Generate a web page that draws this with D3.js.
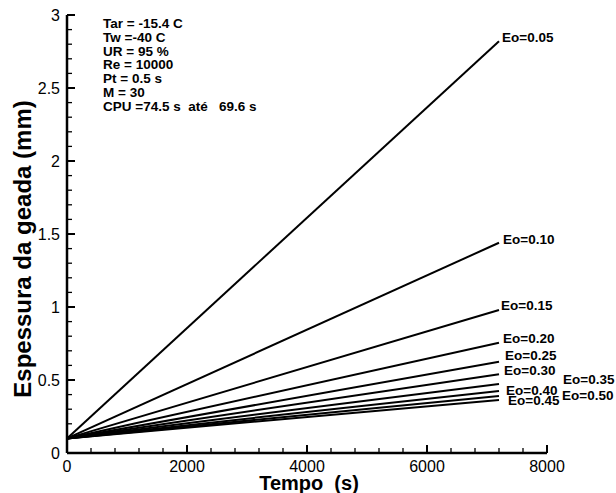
<!DOCTYPE html>
<html>
<head>
<meta charset="utf-8">
<script src="https://cdn.jsdelivr.net/npm/d3@7"></script>
<style>
  body { margin: 0; background: #fff; }
  text { font-family: "Liberation Sans", Arial, sans-serif; fill: #000; }
</style>
</head>
<body>
<script>
// data
var eoLabels = ["Eo=0.05", "Eo=0.10", "Eo=0.15", "Eo=0.20", "Eo=0.25",
                "Eo=0.30", "Eo=0.35", "Eo=0.40", "Eo=0.45", "Eo=0.50"];
var tempoPts = [0, 7200];
var startThick = [0.10, 0.10, 0.10, 0.10, 0.10, 0.10, 0.10, 0.10, 0.10, 0.10];
var endThick = [2.82, 1.44, 0.98, 0.755, 0.625, 0.54, 0.473, 0.425, 0.39, 0.363];
var notes = ["Tar = -15.4 C", "Tw =-40 C", "UR = 95 %", "Re = 10000",
             "Pt = 0.5 s", "M = 30", "CPU =74.5 s  até   69.6 s"];
var xTicks = [0, 2000, 4000, 6000, 8000];
var yTicks = [0, 0.5, 1, 1.5, 2, 2.5, 3];

// label nudges (layout only)
var labelDx = [3, 4, 2, 4, 6, 5, 64, 7, 9, 63];
var labelDy = [-4, -4, -5, -5, -7, -4, -5, -1, 4, -5];

var width = 616, height = 493;
var svg = d3.select("body").append("svg")
    .attr("width", width)
    .attr("height", height);

var x = d3.scaleLinear().domain([0, 8000]).range([67, 547]);
var y = d3.scaleLinear().domain([0, 3]).range([453, 15]);

// ticks, pointing inward
var g = svg.append("g");
d3.range(0, 8001, 400).forEach(function (v) {
  var major = v % 2000 === 0;
  g.append("line")
    .attr("x1", x(v)).attr("x2", x(v))
    .attr("y1", y(0)).attr("y2", y(0) - (major ? 8 : 5))
    .attr("stroke", "#000").attr("stroke-width", major ? 2 : 1.3);
});
d3.range(0, 31, 1).forEach(function (i) {
  var v = i / 10;
  var major = i % 5 === 0;
  g.append("line")
    .attr("x1", x(0)).attr("x2", x(0) + (major ? 8 : 5))
    .attr("y1", y(v)).attr("y2", y(v))
    .attr("stroke", "#000").attr("stroke-width", major ? 2 : 1.3);
});

// axis lines
g.append("line").attr("x1", x(0)).attr("x2", x(8000))
  .attr("y1", y(0)).attr("y2", y(0)).attr("stroke", "#000").attr("stroke-width", 2.5);
g.append("line").attr("x1", x(0)).attr("x2", x(0))
  .attr("y1", y(0)).attr("y2", y(3)).attr("stroke", "#000").attr("stroke-width", 2.5);

// tick labels
g.selectAll(".xl").data(xTicks).enter().append("text")
  .attr("x", function (d) { return x(d); })
  .attr("y", y(0) + 19)
  .attr("text-anchor", "middle")
  .style("font-size", "16px")
  .text(function (d) { return d; });

g.selectAll(".yl").data(yTicks).enter().append("text")
  .attr("x", 60)
  .attr("y", function (d) { return y(d) + 5.5; })
  .attr("text-anchor", "end")
  .style("font-size", "16px")
  .text(function (d) { return d; });

// axis titles
svg.append("text")
  .attr("x", 309).attr("y", 490)
  .attr("text-anchor", "middle")
  .attr("xml:space", "preserve")
  .style("font-size", "20px").style("font-weight", "bold")
  .text("Tempo  (s)");

svg.append("text")
  .attr("transform", "translate(31,249) rotate(-90)")
  .attr("text-anchor", "middle")
  .style("font-size", "24px").style("font-weight", "bold")
  .text("Espessura da geada (mm)");

// series
var line = d3.line()
  .x(function (d) { return x(d[0]); })
  .y(function (d) { return y(d[1]); });

var series = eoLabels.map(function (name, i) {
  return { name: name, pts: [[tempoPts[0], startThick[i]], [tempoPts[1], endThick[i]]] };
});

svg.selectAll(".curve").data(series).enter().append("path")
  .attr("d", function (d) { return line(d.pts); })
  .attr("fill", "none")
  .attr("stroke", "#000")
  .attr("stroke-width", 2);

svg.selectAll(".eo").data(series).enter().append("text")
  .attr("x", function (d, i) { return x(tempoPts[1]) + labelDx[i]; })
  .attr("y", function (d, i) { return y(endThick[i]) + labelDy[i] + 5; })
  .style("font-size", "13.5px").style("font-weight", "bold")
  .text(function (d) { return d.name; });

// parameter notes
svg.selectAll(".note").data(notes).enter().append("text")
  .attr("x", 103)
  .attr("y", function (d, i) { return 28 + i * 13.8; })
  .attr("xml:space", "preserve")
  .style("font-size", "13.5px").style("font-weight", "bold")
  .text(function (d) { return d; });
</script>
</body>
</html>
